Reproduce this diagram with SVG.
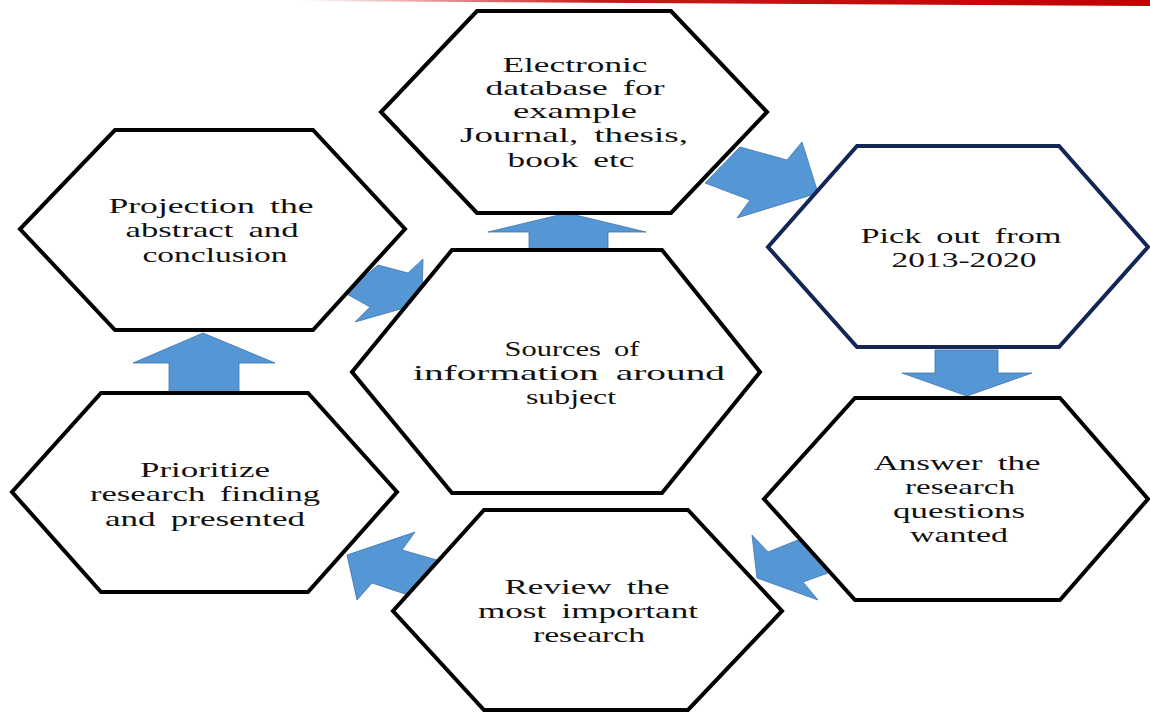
<svg xmlns="http://www.w3.org/2000/svg" width="1150" height="713" viewBox="0 0 1150 713">
<defs>
<linearGradient id="red" x1="0" y1="0" x2="1" y2="0">
<stop offset="0" stop-color="#c00000" stop-opacity="0"/>
<stop offset="0.35" stop-color="#c00000" stop-opacity="0.9"/>
<stop offset="1" stop-color="#c00000"/>
</linearGradient>
<style>
.hex{fill:#fff;stroke:#000;stroke-width:4;stroke-linejoin:miter}
.navy{stroke:#142656}
.arr{fill:#5596d4;stroke:#3f74ad;stroke-width:0.8}
text{font-family:"Liberation Serif","Times New Roman",serif;font-size:22px;fill:#111;text-anchor:middle;word-spacing:4px}
</style>
</defs>
<rect width="1150" height="713" fill="#fff"/>
<polygon points="300,0 1150,0 1150,6 300,1" fill="url(#red)"/>

<g id="connectors">
<polygon class="arr" points="169,393 169,363 133,363 203,333 275,363 239,363 239,393"/>
<polygon class="arr" points="529,250 529,232 488,232 567,213 646,232 608,232 608,250"/>
<polygon class="arr" points="740,147 787,160 802,142 818,193 737,218 750,200 705,183"/>
<polygon class="arr" points="378,265 408,273 423,259 422,303 355,322 370,307 345,293"/>
<polygon class="arr" points="935,350 998,350 998,373 1032,373 967,396 902,373 935,373"/>
<polygon class="arr" points="798,540 828,573 803,582 818,600 757,578 752,535 768,552"/>
<polygon class="arr" points="437,560 408,595 372,583 357,600 347,555 415,532 402,550"/>
</g>

<g id="node-electronic">
<polygon class="hex" points="477,11 671,11 767,112 671,213 477,213 381,112"/>
<text x="575" y="72" textLength="145" lengthAdjust="spacingAndGlyphs">Electronic</text>
<text x="575" y="95" textLength="179" lengthAdjust="spacingAndGlyphs">database for</text>
<text x="575" y="118" textLength="124" lengthAdjust="spacingAndGlyphs">example</text>
<text x="574" y="142" textLength="228" lengthAdjust="spacingAndGlyphs">Journal, thesis,</text>
<text x="571" y="167" textLength="127" lengthAdjust="spacingAndGlyphs">book etc</text>
</g>

<g id="node-projection">
<polygon class="hex" points="115,130 313,130 405,229 313,330 115,330 20,229"/>
<text x="211" y="213" textLength="205" lengthAdjust="spacingAndGlyphs">Projection the</text>
<text x="212" y="237" textLength="173" lengthAdjust="spacingAndGlyphs">abstract and</text>
<text x="215" y="262" textLength="145" lengthAdjust="spacingAndGlyphs">conclusion</text>
</g>

<g id="node-sources">
<polygon class="hex" points="452,250 662,250 760,372 662,493 452,493 352,372"/>
<text x="572" y="356" textLength="135" lengthAdjust="spacingAndGlyphs">Sources of</text>
<text x="569" y="380" textLength="312" lengthAdjust="spacingAndGlyphs">information around</text>
<text x="571" y="404" textLength="90" lengthAdjust="spacingAndGlyphs">subject</text>
</g>

<g id="node-pickout">
<polygon class="hex navy" points="857,146 1059,146 1148,247 1059,347 857,347 768,247"/>
<text x="961" y="243" textLength="201" lengthAdjust="spacingAndGlyphs">Pick out from</text>
<text x="964" y="267" textLength="145" lengthAdjust="spacingAndGlyphs">2013-2020</text>
</g>

<g id="node-answer">
<polygon class="hex" points="855,398 1060,398 1148,499 1060,600 855,600 764,499"/>
<text x="957" y="470" textLength="167" lengthAdjust="spacingAndGlyphs">Answer the</text>
<text x="960" y="494" textLength="110" lengthAdjust="spacingAndGlyphs">research</text>
<text x="959" y="518" textLength="132" lengthAdjust="spacingAndGlyphs">questions</text>
<text x="959" y="542" textLength="98" lengthAdjust="spacingAndGlyphs">wanted</text>
</g>

<g id="node-review">
<polygon class="hex" points="484,510 688,510 782,611 688,710 484,710 393,611"/>
<text x="587" y="594" textLength="165" lengthAdjust="spacingAndGlyphs">Review the</text>
<text x="588" y="618" textLength="220" lengthAdjust="spacingAndGlyphs">most important</text>
<text x="589" y="642" textLength="112" lengthAdjust="spacingAndGlyphs">research</text>
</g>

<g id="node-prioritize">
<polygon class="hex" points="101,393 308,393 397,492 308,592 101,592 12,492"/>
<text x="205" y="477" textLength="130" lengthAdjust="spacingAndGlyphs">Prioritize</text>
<text x="205" y="501" textLength="230" lengthAdjust="spacingAndGlyphs">research finding</text>
<text x="205" y="526" textLength="200" lengthAdjust="spacingAndGlyphs">and presented</text>
</g>
</svg>
